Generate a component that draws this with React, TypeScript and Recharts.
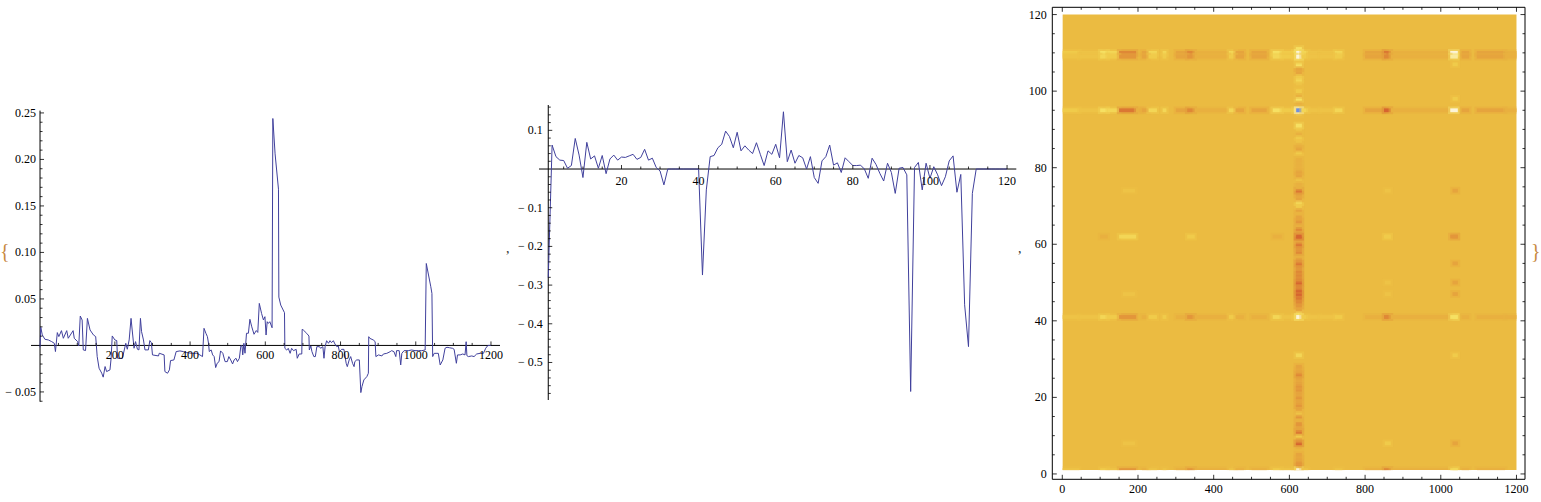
import React from 'react';
import {
  ComposedChart,
  Line,
  XAxis,
  YAxis,
  ReferenceLine,
  ReferenceDot,
  ReferenceArea,
} from 'recharts';

const W = 1541;
const H = 502;
const INK = '#000';
const BLUE = '#40409c';
const SERIF = '"Liberation Serif", "DejaVu Serif", serif';
const FS = 12;

// left plot: [column, value]
const columnLoadings: [number, number][] = [
  [1, -0.002], [3, 0.0195], [7, 0.0113], [14, 0.0066], [23, 0.0059], [32, 0.0041], [39, 0.0023],
  [42, -0.0066], [47, 0.0138], [51, 0.0095], [58, 0.0159], [63, 0.0077], [72, 0.0159], [76, 0.0077],
  [89, 0.0159], [92, 0.0077], [101, 0.0041], [104, -0.0005], [108, 0.0316], [113, 0.0273],
  [116, -0.0048], [122, -0.0055], [127, 0.0291], [134, 0.0166], [143, 0.0113], [149, 0.0095],
  [153, -0.012], [158, -0.0245], [165, -0.0298], [169, -0.0341], [174, -0.0227], [178, -0.0281],
  [187, -0.0263], [190, -0.0138], [193, 0.0102], [200, 0.0059], [205, 0.0052], [207, -0.0138],
  [220, -0.0138], [229, 0.0023], [233, -0.0041], [238, 0.0059], [243, 0.0291], [246, 0.0166],
  [251, -0.003], [255, 0.0041], [260, -0.0041], [264, -0.0048], [268, 0.0291], [271, 0.0148],
  [276, 0.0059], [280, -0.0048], [289, -0.0048], [293, 0.0052], [297, 0.003], [300, -0.0102],
  [316, -0.0113], [318, -0.0084], [331, -0.0102], [333, -0.0281], [340, -0.0299], [345, -0.0263],
  [348, -0.0163], [357, -0.0156], [363, -0.0066], [373, -0.0059], [382, -0.0066], [391, -0.0077],
  [404, -0.0084], [418, -0.0084], [426, -0.0102], [433, -0.012], [437, 0.0184], [442, 0.0131],
  [446, 0.0095], [449, 0.0023], [451, -0.0066], [456, -0.0048], [460, -0.0102], [464, -0.012],
  [468, -0.0238], [472, -0.0192], [477, -0.0174], [481, -0.0059], [487, -0.0084], [493, -0.0174],
  [499, -0.0174], [503, -0.012], [508, -0.0156], [513, -0.0199], [517, -0.0156], [522, -0.0138],
  [526, -0.0174], [531, -0.0138], [535, -0.0005], [538, -0.0005], [540, -0.0102], [543, 0.0023],
  [546, -0.0084], [550, 0.0131], [555, 0.0131], [559, 0.0281], [564, 0.02], [570, 0.012],
  [576, 0.016], [580, 0.014], [584, 0.0452], [590, 0.0345], [595, 0.0274], [599, 0.0309],
  [602, 0.0112], [605, 0.0255], [608, 0.0237], [612, 0.0255], [618, 0.019], [620, 0.244],
  [626, 0.206], [635, 0.168], [636, 0.052], [641, 0.0434], [651, 0.0352], [652, -0.0031],
  [657, -0.005], [661, -0.0031], [666, -0.0085], [670, -0.0031], [675, -0.0056], [682, -0.0042],
  [685, -0.0138], [690, -0.0092], [697, -0.0092], [698, 0.0173], [701, 0.0166], [710, 0.013],
  [716, 0.0101], [717, -0.0049], [721, -0.0006], [724, -0.0067], [729, -0.012], [733, -0.012],
  [737, -0.0013], [744, -0.0013], [747, -0.0031], [753, -0.0013], [756, -0.0138], [759, -0.0013],
  [763, 0.0051], [768, 0.0023], [772, 0.0051], [776, 0.003], [781, 0.0051], [785, 0.0016],
  [790, -0.0013], [794, -0.0006], [797, -0.0067], [803, -0.0042], [809, -0.0042], [815, -0.0192],
  [818, -0.0228], [823, -0.0156], [827, -0.012], [832, -0.0192], [836, -0.0228], [838, -0.0174],
  [843, -0.0156], [850, -0.0156], [854, -0.0507], [857, -0.0442], [862, -0.0371], [870, -0.0335],
  [874, -0.0299], [875, 0.0094], [878, 0.0076], [887, 0.0059], [892, 0.0041], [894, -0.012],
  [901, -0.0102], [910, -0.0113], [914, -0.0092], [923, -0.0085], [932, -0.0067], [936, -0.0056],
  [942, -0.0067], [947, -0.012], [949, -0.0056], [956, -0.0056], [960, -0.021], [963, -0.0085],
  [969, -0.0056], [980, -0.0056], [989, -0.0049], [998, -0.0056], [1007, -0.0056], [1016, -0.0056],
  [1025, -0.0049], [1028, 0.0881], [1040, 0.0631], [1043, 0.0559], [1045, -0.012], [1049, -0.0085],
  [1054, -0.0085], [1060, -0.0085], [1065, -0.021], [1072, -0.0156], [1078, -0.003], [1083, -0.002],
  [1090, -0.0025], [1098, -0.0031], [1102, -0.0042], [1108, -0.0192], [1111, -0.0102], [1118, -0.0102],
  [1125, -0.0092], [1131, -0.0102], [1134, 0.004], [1136, -0.011], [1140, -0.012], [1149, -0.0113],
  [1155, -0.012], [1162, -0.0092], [1171, -0.0085], [1180, -0.0085], [1186, -0.003], [1192, 0],
  [1200, 0],
];

// middle plot: one value per row 1..120
const rowLoadings = [
  -0.281, 0.062, 0.032, 0.023, 0.022, 0.002, 0.009, 0.079, 0.036, -0.022,
  0.069, 0.026, 0.034, 0.002, 0.035, -0.012, 0.026, 0.036, 0.023, 0.031,
  0.03, 0.034, 0.038, 0.025, 0.03, 0.051, 0.023, 0.028, 0.004, -0.005,
  -0.041, 0, 0, 0, 0, 0, 0, 0, 0, 0,
  -0.274, -0.054, 0.032, 0.035, 0.055, 0.064, 0.098, 0.084, 0.055, 0.095,
  0.047, 0.06, 0.049, 0.04, 0.068, 0.038, 0.009, 0.047, 0.038, 0.064,
  0.029, 0.148, 0.019, 0.049, 0.015, 0.035, 0.029, 0, 0.032, -0.022,
  -0.037, 0.021, 0.032, 0.062, 0.01, 0.016, -0.009, 0.029, 0.019, 0.009,
  0.009, 0.01, 0, -0.024, 0.028, 0.012, -0.011, -0.031, 0.015, -0.009,
  -0.063, 0.002, 0.004, -0.015, -0.575, 0.004, 0.017, -0.054, 0.015, -0.024,
  0.006, -0.015, -0.043, -0.02, 0.021, 0.034, -0.06, -0.014, -0.351, -0.459,
  -0.063, 0, 0, 0, 0, 0, 0, 0, 0, 0,
];

const colTickVals = [200, 400, 600, 800, 1000, 1200];
const colTickLabels = ['200', '400', '600', '800', '1000', '1200'];
const colLoadTicks = [-0.05, 0.05, 0.1, 0.15, 0.2, 0.25];
const colLoadLabels = ['\u2212 0.05', '0.05', '0.10', '0.15', '0.20', '0.25'];
const rowTickVals = [20, 40, 60, 80, 100, 120];
const rowTickLabels = ['20', '40', '60', '80', '100', '120'];
const rowLoadTicks = [-0.5, -0.4, -0.3, -0.2, -0.1, 0.1];
const rowLoadLabels = ['\u2212 0.5', '\u2212 0.4', '\u2212 0.3', '\u2212 0.2', '\u2212 0.1', '0.1'];
const frameColTicks = [0, 200, 400, 600, 800, 1000, 1200];
const frameRowTicks = [0, 20, 40, 60, 80, 100, 120];

// density map, read as colour levels (-4 blue .. 0 plain .. +4 red)
const heatColEdges = [
  1, 45, 100, 120, 150, 195, 210, 228, 250, 265, 275, 300, 330, 350, 440, 458, 480, 500, 540,
  556, 580, 610, 618, 632, 650, 680, 720, 740, 800, 850, 868, 1025, 1045, 1055, 1075, 1095, 1170, 1200,
];
const heatStripeRows = [110, 109, 95, 62, 41, 1];
const heatRow110 = [-1, -0.5, -2, -1.5, 2, 0, 1, -1.5, 0, -1.5, 0, 1, 2, 0.5, -1.5, 1, 0, 1, 0, -2, -1, -1.5, -3, -1.5, -0.5, -0.5, -1.5, 0, 1, 2.5, 0.5, -3, 0, 1, 0, 1, 0.5];
const heatRow109 = [-0.5, -0.5, -1.5, -1, 1.5, 0, 1, -1, 0, -1, 0, 1, 1.5, 0.5, -1, 1, 0, 1, 0, -1.5, -1, -1, -3, -1, -0.5, -0.5, -1, 0, 1, 2, 0.5, -2.5, 0, 1, 0, 1, 0.5];
const heatRow95 = [-1, -0.5, -2, -1.5, 2.5, 0.5, 1, -1.5, 0, -1.5, 0, 1, 2, 0.5, -1.5, 1, 0, 1, 0, -2, -1, -1.5, -4, -1.5, -0.5, -0.5, -1.5, 0, 1, 3, 0.5, -3, 0, 1, 0, 1, 0.5];
const heatRow62 = [0, 0, 0.5, 0, -1.5, 0, 0, 0, 0, 0, 0, 0, -1, 0, 0, 0, 0, 0, 0, 0.5, 0, 0, 3, 0, 0, 0, 0, 0, 0, -1, 0, 1.5, 0, 0, 0, 0, 0];
const heatRow41 = [-0.5, -0.5, -1.5, -1, 1.5, 0, 0.5, -1, 0, -1, 0, 0.5, 1.5, 0.5, -1, 0.5, 0, 0.5, 0, -1.5, -0.5, -1, -3, -1, -0.5, -0.5, -1, 0, 0.5, 2, 0.5, -2, 0, 0.5, 0, 0.5, 0.5];
const heatRow1 = [-0.5, 0, -1, -0.5, 1.5, 0, 0.5, -0.5, 0, -0.5, 0, 0.5, 1.5, 0.5, -0.5, 0.5, 0, 0.5, 0, -1, -0.5, -0.5, -3, -0.5, 0, 0, -0.5, 0, 0.5, 2, 0.5, -1.5, 0, 0.5, 0, 0.5, 0];
const heatRowLevels = [heatRow110, heatRow109, heatRow95, heatRow62, heatRow41, heatRow1];

// the strong vertical band near column 625, one level per row 1..120
const mainBandCols = [617, 633];
const mainBandLevels = [
  -3, 2, 1.5, 1, 1, 0, 0.5, 3, 1.5, -1,
  2.5, 1, 1.5, 0, 1.5, -0.5, 1, 1.5, 1, 1.5,
  1, 1.5, 1.5, 1, 1, 2, 1, 1, 0, 0,
  -1.5, 0, 0, 0, 0, 0, 0, 0, 0, 0,
  -3, -2, 1, 1.5, 2, 2.5, 3, 3, 2, 3,
  2, 2, 2, 1.5, 2.5, 1.5, 0.5, 2, 1.5, 2.5,
  1, 3.5, 1, 2, 0.5, 1.5, 1, 0, 1, -1,
  -1.5, 1, 1, 2.5, 0.5, 0.5, -0.5, 1, 1, 0.5,
  0.5, 0.5, 0, -1, 1, 0.5, -0.5, -1, 0.5, -0.5,
  -2, 0, 0, -0.5, -4, 0, 0.5, -2, 0.5, -1,
  0, -0.5, -1.5, -1, 1, 1, -2, -0.5, -3, -3.5,
  -2, 0, 0, 0, 0, 0, 0, 0, 0, 0,
];

// weaker vertical bands: column range and [row, level] cells
const sideBands: { cols: [number, number]; cells: [number, number][] }[] = [
  { cols: [1031, 1045], cells: [[1, -1.5], [8, 1], [31, -1], [41, -2], [47, 1], [50, 1], [55, 1], [62, 1.5], [74, 1], [98, -1], [107, -1]] },
  { cols: [852, 868], cells: [[8, -1], [41, 1.5], [47, -0.5], [50, -0.5], [62, -1], [74, -0.5]] },
  { cols: [160, 192], cells: [[8, -0.5], [41, 1], [47, -0.5], [62, -1], [74, -0.5]] },
  { cols: [330, 348], cells: [[41, 1], [62, -0.5]] },
];

const levelStops: [number, string][] = [
  [-4, '#6f8fe0'], [-3, '#fcf4d8'], [-2, '#f6e062'], [-1, '#f0cb4a'], [0, '#ebbb41'],
  [1, '#e6a43d'], [2, '#df8836'], [3, '#d6652f'], [4, '#c9452a'],
];

const hex = (c: string) => [1, 3, 5].map((i) => parseInt(c.slice(i, i + 2), 16));

const levelColor = (lv: number) => {
  const l = Math.max(-4, Math.min(4, lv));
  let i = 0;
  while (i < levelStops.length - 2 && l > levelStops[i + 1][0]) i++;
  const [l0, c0] = levelStops[i];
  const [l1, c1] = levelStops[i + 1];
  const t = (l - l0) / (l1 - l0);
  const a = hex(c0);
  const b = hex(c1);
  const m = a.map((v, k) => Math.round(v + (b[k] - v) * t));
  return `rgb(${m[0]},${m[1]},${m[2]})`;
};

const steps = (from: number, to: number, step: number) => {
  const out: number[] = [];
  for (let v = from; v <= to + 1e-9; v += step) out.push(Math.round(v * 10000) / 10000);
  return out;
};

const without = (list: number[], skip: number[]) =>
  list.filter((v) => !skip.some((s) => Math.abs(s - v) < 1e-6));

type DotProps = { cx?: number; cy?: number };

// one tick mark (dx, dy) with an optional label offset from the tick point
const tickShape =
  (dx: number, dy: number, label?: string, lx = 0, ly = 0, anchor: 'start' | 'middle' | 'end' = 'middle') =>
  (p: DotProps) => {
    const cx = p.cx ?? 0;
    const cy = p.cy ?? 0;
    return (
      <g>
        <line x1={cx} y1={cy} x2={cx + dx} y2={cy + dy} stroke={INK} strokeWidth={0.8} />
        {label ? (
          <text x={cx + lx} y={cy + ly} textAnchor={anchor} fontFamily={SERIF} fontSize={FS} fill={INK}>
            {label}
          </text>
        ) : null}
      </g>
    );
  };

const layer: React.CSSProperties = { position: 'absolute', left: 0, top: 0 };

const marginFor = (l: number, r: number, t: number, b: number) => ({
  left: l,
  right: W - r,
  top: t,
  bottom: H - b,
});

function ColumnPlot() {
  const data = columnLoadings.map(([x, v]) => ({ x, v }));
  const xMinor = without(steps(50, 1200, 50), colTickVals);
  const yMinor = without(steps(-0.06, 0.25, 0.01), [...colLoadTicks, 0]);
  return (
    <ComposedChart width={W} height={H} data={data} margin={marginFor(31, 500, 110.6, 401.7)}>
      <XAxis type="number" dataKey="x" domain={[-23, 1224]} hide allowDataOverflow />
      <YAxis type="number" domain={[-0.0605, 0.2525]} hide allowDataOverflow />
      <ReferenceLine y={0} stroke={INK} strokeWidth={1} />
      <ReferenceLine x={1} stroke={INK} strokeWidth={1} />
      {xMinor.map((v) => (
        <ReferenceDot key={`xm${v}`} x={v} y={0} ifOverflow="visible" shape={tickShape(0, -2.5)} />
      ))}
      {colTickVals.map((v, i) => (
        <ReferenceDot key={`xM${v}`} x={v} y={0} ifOverflow="visible" shape={tickShape(0, -4, colTickLabels[i], 0, 13.5)} />
      ))}
      {yMinor.map((v) => (
        <ReferenceDot key={`ym${v}`} x={1} y={v} ifOverflow="visible" shape={tickShape(2.5, 0)} />
      ))}
      {colLoadTicks.map((v, i) => (
        <ReferenceDot key={`yM${v}`} x={1} y={v} ifOverflow="visible" shape={tickShape(4, 0, colLoadLabels[i], -4, 4, 'end')} />
      ))}
      <Line type="linear" dataKey="v" stroke={BLUE} strokeWidth={1} dot={false} isAnimationActive={false} />
    </ComposedChart>
  );
}

function RowPlot() {
  const data = rowLoadings.map((v, i) => ({ x: i + 1, v }));
  const xMinor = without(steps(5, 120, 5), rowTickVals);
  const yMinor = without(steps(-0.58, 0.16, 0.02), [...rowLoadTicks, 0]);
  return (
    <ComposedChart width={W} height={H} data={data} margin={marginFor(539, 1016.3, 105, 400)}>
      <XAxis type="number" dataKey="x" domain={[-1.4, 122.4]} hide allowDataOverflow />
      <YAxis type="number" domain={[-0.597, 0.1655]} hide allowDataOverflow />
      <ReferenceLine y={0} stroke={INK} strokeWidth={1} />
      <ReferenceLine x={1} stroke={INK} strokeWidth={1} />
      {xMinor.map((v) => (
        <ReferenceDot key={`xm${v}`} x={v} y={0} ifOverflow="visible" shape={tickShape(0, -2.5)} />
      ))}
      {rowTickVals.map((v, i) => (
        <ReferenceDot key={`xM${v}`} x={v} y={0} ifOverflow="visible" shape={tickShape(0, -4, rowTickLabels[i], 0, 16)} />
      ))}
      {yMinor.map((v) => (
        <ReferenceDot key={`ym${v}`} x={1} y={v} ifOverflow="visible" shape={tickShape(2.5, 0)} />
      ))}
      {rowLoadTicks.map((v, i) => (
        <ReferenceDot key={`yM${v}`} x={1} y={v} ifOverflow="visible" shape={tickShape(4, 0, rowLoadLabels[i], -5.5, 4, 'end')} />
      ))}
      <Line type="linear" dataKey="v" stroke={BLUE} strokeWidth={1} dot={false} isAnimationActive={false} />
    </ComposedChart>
  );
}

const clampRow = (v: number) => Math.max(1, Math.min(120, v));

function HeatMap() {
  const X0 = -26.4;
  const X1 = 1222.5;
  const Y0 = -1.4;
  const Y1 = 121.9;
  const areas: React.ReactNode[] = [];
  areas.push(
    <ReferenceArea key="base" x1={1} x2={1200} y1={1} y2={120} fill={levelColor(0)} fillOpacity={1} stroke="none" ifOverflow="visible" />,
  );
  const band = (key: string, c0: number, c1: number, r: number, lv: number) => {
    if (lv === 0) return;
    areas.push(
      <ReferenceArea key={`${key}h`} x1={Math.max(1, c0 - 6)} x2={Math.min(1200, c1 + 6)} y1={clampRow(r - 1)} y2={clampRow(r + 1)}
        fill={levelColor(lv * 0.7)} fillOpacity={0.45} stroke="none" ifOverflow="visible" />,
    );
    areas.push(
      <ReferenceArea key={key} x1={c0} x2={c1} y1={clampRow(r - 0.5)} y2={clampRow(r + 0.5)}
        fill={levelColor(lv)} fillOpacity={1} stroke="none" ifOverflow="visible" />,
    );
  };
  sideBands.forEach((b, bi) => b.cells.forEach(([r, lv]) => band(`s${bi}-${r}`, b.cols[0], b.cols[1], r, lv)));
  mainBandLevels.forEach((lv, i) => band(`m${i}`, mainBandCols[0], mainBandCols[1], i + 1, lv));
  heatStripeRows.forEach((r, ri) =>
    heatRowLevels[ri].forEach((lv, gi) => band(`r${r}-${gi}`, heatColEdges[gi], heatColEdges[gi + 1], r, lv)),
  );

  const xMinor = without(steps(0, 1200, 50), frameColTicks);
  const yMinor = without(steps(0, 120, 5), frameRowTicks);
  return (
    <ComposedChart width={W} height={H} margin={marginFor(1052.3, 1525, 7.3, 479.3)}>
      <XAxis type="number" dataKey="x" domain={[X0, X1]} hide allowDataOverflow />
      <YAxis type="number" domain={[Y0, Y1]} hide allowDataOverflow />
      {areas}
      <ReferenceArea x1={X0} x2={X1} y1={Y0} y2={Y1} fill="none" stroke={INK} strokeWidth={1} ifOverflow="visible" />
      {xMinor.map((v) => (
        <React.Fragment key={`fx${v}`}>
          <ReferenceDot x={v} y={Y0} ifOverflow="visible" shape={tickShape(0, -2.5)} />
          <ReferenceDot x={v} y={Y1} ifOverflow="visible" shape={tickShape(0, 2.5)} />
        </React.Fragment>
      ))}
      {frameColTicks.map((v) => (
        <React.Fragment key={`FX${v}`}>
          <ReferenceDot x={v} y={Y0} ifOverflow="visible" shape={tickShape(0, -4.5, String(v), 0, 14)} />
          <ReferenceDot x={v} y={Y1} ifOverflow="visible" shape={tickShape(0, 4.5)} />
        </React.Fragment>
      ))}
      {yMinor.map((v) => (
        <React.Fragment key={`fy${v}`}>
          <ReferenceDot x={X0} y={v} ifOverflow="visible" shape={tickShape(2.5, 0)} />
          <ReferenceDot x={X1} y={v} ifOverflow="visible" shape={tickShape(-2.5, 0)} />
        </React.Fragment>
      ))}
      {frameRowTicks.map((v) => (
        <React.Fragment key={`FY${v}`}>
          <ReferenceDot x={X0} y={v} ifOverflow="visible" shape={tickShape(4.5, 0, String(v), -5.5, 4, 'end')} />
          <ReferenceDot x={X1} y={v} ifOverflow="visible" shape={tickShape(-4.5, 0)} />
        </React.Fragment>
      ))}
    </ComposedChart>
  );
}

const glyph = (left: number, top: number, size: number): React.CSSProperties => ({
  position: 'absolute',
  left,
  top,
  fontFamily: SERIF,
  fontSize: size,
  lineHeight: 1,
  color: '#c7883e',
});

export default function App() {
  return (
    <div style={{ position: 'absolute', left: 0, top: 0, width: W, height: H, background: '#fff', overflow: 'hidden' }}>
      <div style={layer}><ColumnPlot /></div>
      <div style={layer}><RowPlot /></div>
      <div style={layer}><HeatMap /></div>
      <span style={glyph(0, 241, 20)}>{'{'}</span>
      <span style={{ ...glyph(506, 242, 14), color: '#333' }}>,</span>
      <span style={{ ...glyph(1018, 242, 14), color: '#333' }}>,</span>
      <span style={glyph(1531, 241, 20)}>{'}'}</span>
    </div>
  );
}
